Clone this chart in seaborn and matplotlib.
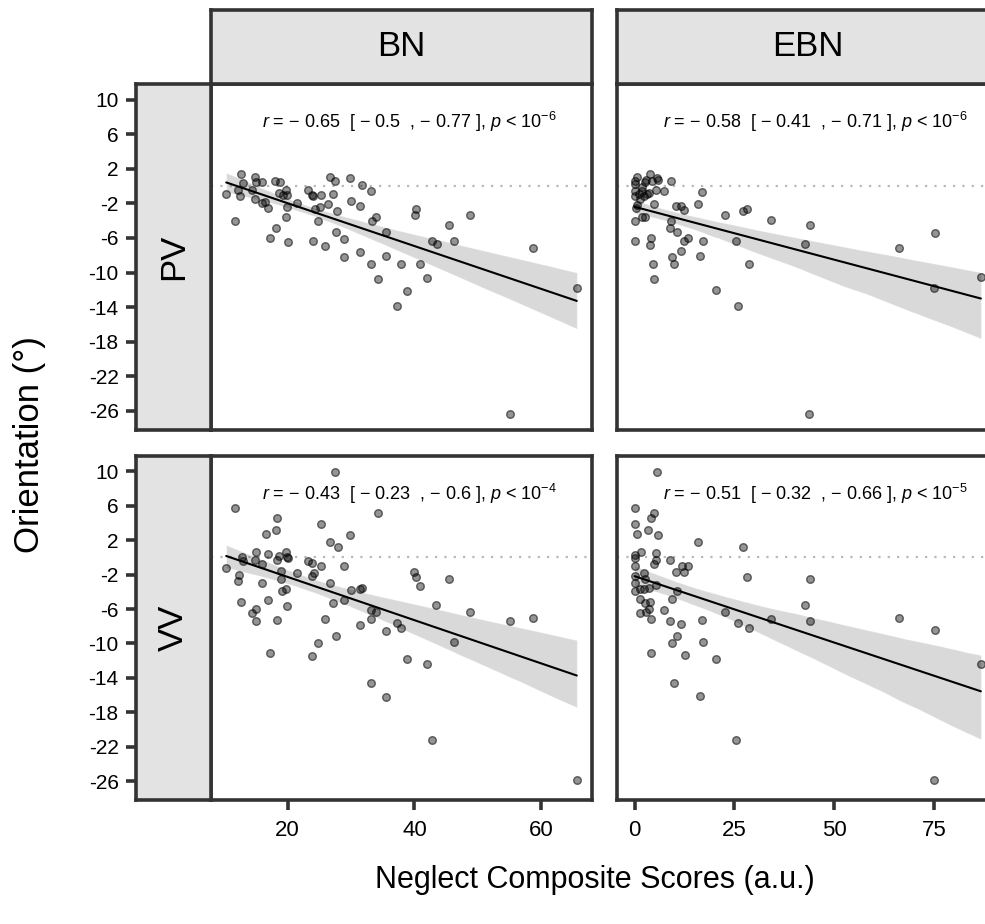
#Scatter + regression facets: orientation vs neglect composite scores
import matplotlib
matplotlib.use('Agg')
import matplotlib.pyplot as plt
import seaborn as sns

#data
bn_pv_x = [10.3, 11.65, 12.7, 12.1, 12.45, 13.0, 14.85, 14.95, 16.0, 14.85,
           14.3, 15.9, 16.45, 16.97, 17.24, 18.2, 18.0, 18.8, 18.56, 19.2,
           19.7, 19.95, 19.95, 19.8, 20.0, 21.4, 23.2, 23.8, 24.0, 25.2,
           27.1, 24.0, 24.3, 24.85, 25.1, 25.9, 26.4, 26.6, 27.4, 27.6,
           27.7, 28.9, 28.9, 29.8, 30.05, 31.4, 31.4, 31.75, 33.1, 33.1,
           33.3, 34.0, 34.25, 35.5, 35.5, 37.3, 37.9, 38.8, 40.1, 40.25,
           40.9, 42.0, 42.8, 43.55, 45.5, 46.2, 48.8, 55.0, 58.7, 65.6]
bn_pv_y = [-0.9, -4.0, 1.4, -0.5, -1.1, 0.3, 1.0, 0.5, 0.5, -1.5,
           -0.4, -2.0, -1.8, -2.5, -6.05, -4.8, 0.6, 0.5, -0.8, -1.0,
           -0.4, -1.0, -2.4, -3.6, -6.5, -1.9, -0.5, -1.0, -1.15, -1.0,
           -0.9, -6.3, -2.7, -4.0, -2.4, -6.9, -2.1, 1.0, 0.6, -5.3,
           -2.9, -8.2, -6.1, 0.9, -1.7, -2.35, -7.6, 0.1, -0.6, -9.05,
           -4.0, -3.6, -10.8, -5.3, -8.1, -13.9, -9.0, -12.1, -3.4, -2.7,
           -9.0, -10.6, -6.4, -6.7, -4.5, -6.35, -3.35, -26.4, -7.2, -11.75]

bn_vv_x = [27.4, 11.65, 34.25, 18.3, 18.1, 16.5, 25.2, 29.8, 26.6, 27.9,
           10.3, 12.8, 13.0, 14.95, 14.85, 15.9, 16.97, 18.3, 18.56, 19.7,
           19.95, 20.05, 12.3, 12.1, 12.7, 14.3, 15.0, 14.95, 15.9, 16.97,
           17.24, 18.35, 19.0, 19.0, 19.1, 19.7, 19.95, 21.4, 23.2, 23.8,
           23.9, 24.2, 25.2, 23.9, 24.8, 25.9, 26.6, 27.1, 27.6, 28.9,
           28.9, 30.05, 31.4, 31.75, 31.4, 33.1, 33.2, 33.9, 33.1, 35.5,
           35.5, 37.3, 37.9, 38.8, 40.0, 40.2, 40.9, 42.0, 42.8, 43.4,
           45.5, 46.2, 48.8, 55.0, 58.7, 65.6]
bn_vv_y = [9.9, 5.7, 5.2, 4.6, 3.2, 2.7, 3.9, 2.6, 1.8, 1.2,
           -1.2, 0.1, -0.4, 0.6, -0.35, -0.75, 0.35, -0.25, 0.15, 0.6,
           0.05, -0.05, -2.05, -2.75, -5.2, -6.4, -6.0, -7.4, -2.95, -4.9,
           -11.1, -7.3, -1.6, -2.55, -3.95, -3.65, -5.65, -1.8, -0.45, -0.6,
           -2.1, -1.8, -1.0, -11.4, -9.9, -7.2, -2.95, -5.35, -9.1, -1.0,
           -4.95, -3.8, -3.7, -3.5, -7.8, -6.15, -7.2, -6.35, -14.6, -8.5,
           -16.2, -7.65, -8.15, -11.8, -1.65, -2.25, -3.3, -12.4, -21.2, -5.5,
           -2.5, -9.8, -6.35, -7.4, -7.0, -25.9]

ebn_pv_x = [0.2, 0.6, 0.0, 0.2, 1.0, 2.3, 3.1, 2.7, 3.8, 4.3,
            5.6, 6.0, 5.4, 7.5, 9.1, 0.4, 0.6, 0.0, 1.9, 2.7,
            4.8, 0.0, 4.1, 3.9, 4.6, 4.8, 9.2, 9.0, 10.6, 10.4,
            11.6, 12.4, 12.3, 13.3, 11.6, 9.4, 9.8, 15.8, 17.0, 17.1,
            16.3, 20.3, 22.7, 25.5, 25.9, 27.3, 28.2, 28.7, 34.2, 42.8,
            43.9, 43.8, 66.4, 75.4, 75.0, 86.8, 1.9, 2.9, 3.5, 0.0,
            1.3, 1.8]
ebn_pv_y = [0.6, 1.0, -0.55, -1.15, -0.95, -1.15, -0.95, 0.5, 1.4, 0.6,
            0.9, 0.65, -0.5, -0.55, 0.6, -2.5, -2.2, -4.0, -3.6, -3.6,
            -2.05, -6.4, -6.05, -6.85, -9.0, -10.8, -4.0, -4.8, -5.3, -2.35,
            -2.35, -2.8, -6.3, -6.05, -7.5, -8.15, -9.05, -2.1, -0.65, -6.4,
            -8.1, -12.05, -3.4, -6.4, -13.85, -2.9, -2.7, -9.05, -3.95, -6.75,
            -4.55, -26.4, -7.2, -5.4, -11.75, -10.5, -0.1, 0.75, -0.75, 0.2,
            -1.55, -0.55]

ebn_vv_x = [5.6, 0.0, 0.0, 0.6, 3.3, 4.1, 4.8, 6.0, 15.9, 27.3,
            0.0, 0.2, 1.6, 5.4, 5.4, 4.8, 9.0, 0.2, 0.0, 0.0,
            0.0, 1.4, 2.3, 1.3, 2.7, 3.8, 2.9, 1.4, 3.5, 2.3,
            2.7, 3.5, 5.4, 4.1, 4.1, 7.4, 9.0, 9.4, 10.6, 10.4,
            11.9, 12.5, 13.5, 11.6, 10.6, 9.4, 12.7, 9.8, 16.5, 17.0,
            17.1, 20.3, 22.7, 25.5, 25.9, 28.2, 28.7, 34.2, 42.8, 43.9,
            43.9, 66.4, 75.4, 75.0, 86.8]
ebn_vv_y = [9.9, 5.7, 3.95, 2.75, 3.25, 4.6, 5.2, 2.65, 1.8, 1.25,
            0.25, -0.05, 0.65, 0.55, -0.25, -0.8, -0.25, -1.0, -2.1, -2.95,
            -3.9, -3.7, -3.65, -4.85, -5.25, -5.2, -6.35, -6.4, -5.95, -1.85,
            -2.55, -3.5, -3.15, -7.2, -11.05, -6.1, -7.4, -4.85, -3.9, -1.7,
            -1.0, -1.7, -1.0, -7.75, -9.1, -9.9, -11.35, -14.65, -16.15, -7.25,
            -9.8, -11.85, -6.35, -21.2, -7.65, -2.25, -8.15, -7.2, -5.55, -2.5,
            -7.4, -7.0, -8.45, -25.9, -12.4]

#correlation labels (r, CI low, CI high, p exponent)
r_est = [[0.65, 0.58], [0.43, 0.51]]
r_ci_lo = [[0.5, 0.41], [0.23, 0.32]]
r_ci_hi = [[0.77, 0.71], [0.6, 0.66]]
p_exp = [[6, 6], [4, 5]]

col_names = ['BN', 'EBN']
row_names = ['PV', 'VV']
y_ticks = [10, 6, 2, -2, -6, -10, -14, -18, -22, -26]
x_ticks = [[20, 40, 60], [0, 25, 50, 75]]
x_limits = [(7.9, 68.0), (-4.4, 91.1)]
y_limits = (-28.2, 11.8)

panel_x = [[bn_pv_x, ebn_pv_x], [bn_vv_x, ebn_vv_x]]
panel_y = [[bn_pv_y, ebn_pv_y], [bn_vv_y, ebn_vv_y]]

#style
sns.set_style('white')
plt.rcParams['font.family'] = ['Liberation Sans', 'DejaVu Sans']
plt.rcParams['mathtext.fontset'] = 'custom'
plt.rcParams['mathtext.rm'] = 'Liberation Sans'
plt.rcParams['mathtext.it'] = 'Liberation Sans:italic'
plt.rcParams['text.color'] = 'black'
plt.rcParams['xtick.labelcolor'] = 'black'
plt.rcParams['ytick.labelcolor'] = 'black'

dark = '#333333'
strip_fill = '#e3e3e3'
MINUS = '\u2212'
W, H = 985, 924

fig = plt.figure(figsize=(W / 100, H / 100), dpi=100)
fig.patch.set_facecolor('white')


def box(left, top, right, bottom):
    #pixel edges -> figure fraction rectangle
    return [left / W, 1 - bottom / H, (right - left) / W, (bottom - top) / H]


def frame(ax):
    for s in ax.spines.values():
        s.set_visible(True)
        s.set_color(dark)
        s.set_linewidth(2.6)


col_edges = [(211, 592), (617, 998)]
row_edges = [(84, 430), (456, 800)]

for i in range(2):
    for j in range(2):
        left, right = col_edges[j]
        top, bottom = row_edges[i]
        ax = fig.add_axes(box(left, top, right, bottom))
        ax.axhline(0, color='#b8b8b8', lw=1.6, ls=(0, (1, 3.2)), zorder=0)
        sns.regplot(x=panel_x[i][j], y=panel_y[i][j], ax=ax, ci=85, seed=3,
                    scatter_kws={'s': 30, 'facecolors': (0, 0, 0, 0.42),
                                 'edgecolors': (0, 0, 0, 0.55), 'linewidths': 1.0,
                                 'alpha': None, 'zorder': 2},
                    line_kws={'color': 'black', 'lw': 1.5, 'zorder': 3},
                    color='black')
        ax.set_xlim(x_limits[j])
        ax.set_ylim(y_limits)
        ax.set_xlabel('')
        ax.set_ylabel('')
        ax.set_yticks([])
        frame(ax)
        if i == 1:
            ax.set_xticks(x_ticks[j])
            ax.set_xticklabels([str(t) for t in x_ticks[j]])
            ax.tick_params(axis='x', bottom=True, length=7.5, width=2.6,
                           color=dark, labelsize=16, pad=7)
        else:
            ax.set_xticks([])
        label = ('$\\mathit{r}$ = ' + MINUS + ' ' + f'{r_est[i][j]:g}' +
                 '  [ ' + MINUS + ' ' + f'{r_ci_lo[i][j]:g}' + '  , ' + MINUS +
                 ' ' + f'{r_ci_hi[i][j]:g}' + ' ], $\\mathit{p}$ < ' +
                 '$10^{-' + str(p_exp[i][j]) + '}$')
        ax.text(0.52, 0.89, label, transform=ax.transAxes, ha='center',
                va='center', fontsize=13)

#column strips
for j in range(2):
    left, right = col_edges[j]
    sax = fig.add_axes(box(left, 9.5, right, 84))
    sax.set_facecolor(strip_fill)
    sax.set_xticks([])
    sax.set_yticks([])
    frame(sax)
    sax.text(0.5, 0.5, col_names[j], transform=sax.transAxes, ha='center',
             va='center', fontsize=25)

#row strips, carrying the y axis
for i in range(2):
    top, bottom = row_edges[i]
    sax = fig.add_axes(box(136, top, 211, bottom))
    sax.set_facecolor(strip_fill)
    sax.set_ylim(y_limits)
    sax.set_xticks([])
    sax.set_yticks(y_ticks)
    sax.set_yticklabels([str(t) for t in y_ticks])
    sax.tick_params(axis='y', left=True, length=7.5, width=2.6, color=dark,
                    labelsize=15, pad=5)
    frame(sax)
    sax.text(0.5, 0.5, row_names[i], transform=sax.transAxes, ha='center',
             va='center', fontsize=25, rotation=90)

fig.text(595 / W, 1 - 880 / H, 'Neglect Composite Scores (a.u.)',
         ha='center', va='center', fontsize=22)
fig.text(30 / W, 1 - 445 / H, 'Orientation (°)', ha='center', va='center',
         fontsize=25, rotation=90)

fig.savefig('out.png', dpi=100)
